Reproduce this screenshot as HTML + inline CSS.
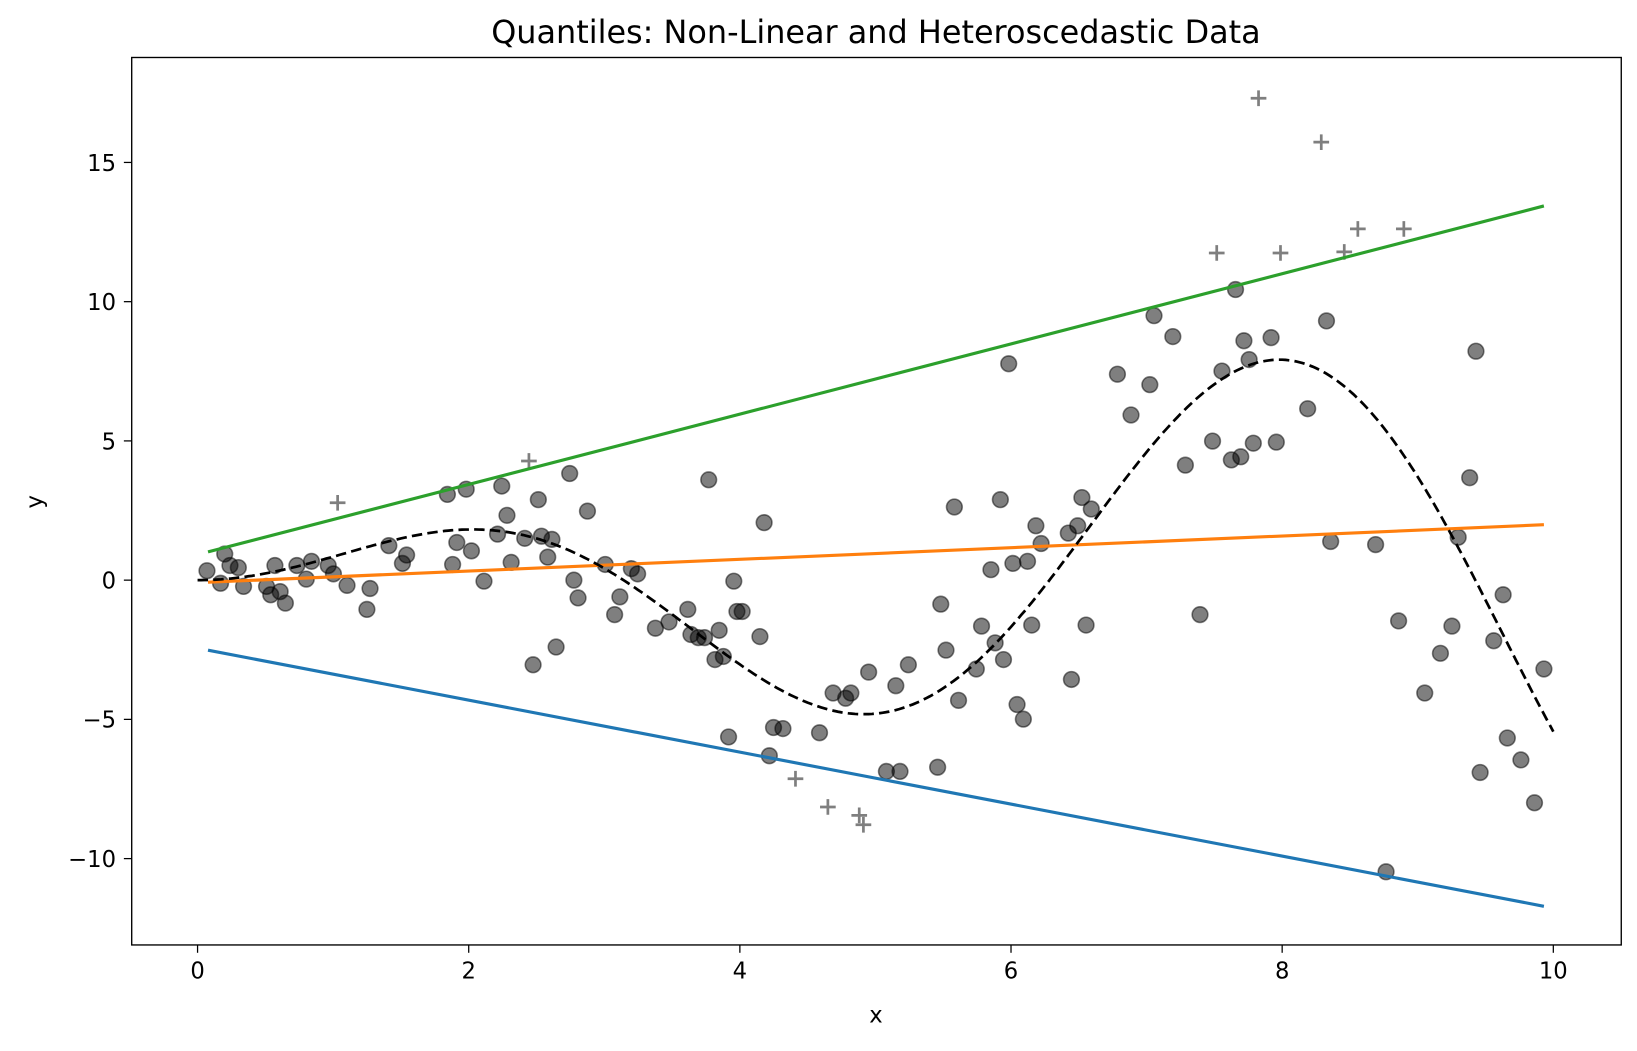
<!DOCTYPE html>
<html><head><meta charset="utf-8"><style>
body{margin:0;background:#fff}
svg text{font-family:"DejaVu Sans","Liberation Sans",sans-serif;fill:#000}
</style></head><body>
<svg id="s" width="1637" height="1046" xmlns="http://www.w3.org/2000/svg">
<rect width="1637" height="1046" fill="#fff"/>
<g transform="scale(1.0453)">
<text x="838" y="41" font-size="30.5" text-anchor="middle">Quantiles: Non-Linear and Heteroscedastic Data</text>
<g id="pts"></g>
<line x1="199" y1="528" x2="1477" y2="197" stroke="#2ca02c" stroke-width="3"/>
<line x1="199" y1="557" x2="1477" y2="502" stroke="#ff7f0e" stroke-width="3"/>
<line x1="199" y1="622" x2="1477" y2="867" stroke="#1f77b4" stroke-width="3"/>
<path id="dash" fill="none" stroke="#000" stroke-width="2.6" stroke-dasharray="10,5"/>
<rect x="126" y="55" width="1425" height="849" fill="none" stroke="#000" stroke-width="1.3"/>
<g id="ticks" font-size="21.7"></g>
<text x="838" y="978" font-size="21.7" text-anchor="middle">x</text>
<text transform="translate(40,480) rotate(-90)" font-size="21.7" text-anchor="middle">y</text>
</g>
</svg>
<script>
function X(v){return 189+129.7*v}function Y(v){return 555-26.64*v}
var d="";for(var i=0;i<=400;i++){var x=i/40;d+=(i?"L":"M")+X(x).toFixed(1)+","+Y(x*Math.sin(x)).toFixed(1);}
document.getElementById('dash').setAttribute('d',d);
var P=[[198,546],[211,558],[215,530],[220,541],[228,543],[233,561],[255,561],[259,569],[263,541],[268,566],[273,577],[284,541],[293,554],[298,537],[314,541],[319,549],[332,560],[351,583],[354,563],[372,522],[385,539],[389,531],[428,473],[433,540],[437,519],[446,468],[451,527],[463,556],[476,511],[480,465],[485,493],[489,538],[502,515],[510,636],[515,478],[518,513],[524,533],[528,516],[532,619],[545,453],[549,555],[553,572],[562,489],[579,540],[588,588],[593,571],[604,544],[610,549],[627,601],[640,595],[658,583],[661,607],[668,610],[674,610],[678,459],[684,631],[688,603],[692,628],[697,705],[702,556],[705,585],[710,585],[727,609],[731,500],[736,723],[740,696],[749,697],[784,701],[797,663],[809,668],[814,663],[831,643],[848,738],[857,656],[861,738],[869,636],[897,734],[900,578],[905,622],[913,485],[917,670],[934,640],[939,599],[948,545],[952,615],[957,478],[960,631],[965,348],[969,539],[973,674],[979,688],[983,537],[987,598],[991,503],[996,520],[1022,510],[1025,650],[1031,503],[1035,476],[1039,598],[1044,487],[1069,358],[1082,397],[1100,368],[1104,302],[1122,322],[1134,445],[1148,588],[1160,422],[1169,355],[1178,440],[1182,277],[1187,437],[1190,326],[1195,344],[1199,424],[1216,323],[1221,423],[1251,391],[1269,307],[1273,518],[1316,521],[1326,834],[1338,594],[1363,663],[1378,625],[1389,599],[1395,514],[1406,457],[1412,336],[1416,739],[1429,613],[1438,569],[1442,706],[1455,727],[1468,768],[1477,640]];
var h="";
P.forEach(function(p){h+='<circle cx="'+p[0]+'" cy="'+p[1]+'" r="7.5" fill="#000" fill-opacity="0.5" stroke="#000" stroke-opacity="0.5" stroke-width="1.5"/>';});
[[323,481],[506,441],[761,745],[792,772],[822,780],[826,789],[1164,242],[1204,94],[1225,242],[1264,136],[1286,241],[1299,219],[1343,219]].forEach(function(p){
h+='<path d="M'+(p[0]-7.5)+','+p[1]+'h15M'+p[0]+','+(p[1]-7.5)+'v15" stroke="#000" stroke-opacity="0.5" stroke-width="2.6"/>';});
document.getElementById('pts').innerHTML=h;
var t="";
[0,2,4,6,8,10].forEach(function(v){var x=X(v);t+='<line x1="'+x+'" y1="904" x2="'+x+'" y2="911.5" stroke="#000" stroke-width="1.2"/><text x="'+x+'" y="936" text-anchor="middle">'+v+'</text>';});
[15,10,5,0,-5,-10].forEach(function(v){var y=Y(v);t+='<line x1="118.5" y1="'+y+'" x2="126" y2="'+y+'" stroke="#000" stroke-width="1.2"/><text x="111" y="'+(y+8)+'" text-anchor="end">'+(v<0?'\u2212'+(-v):v)+'</text>';});
document.getElementById('ticks').innerHTML=t;
</script>
</body></html>
